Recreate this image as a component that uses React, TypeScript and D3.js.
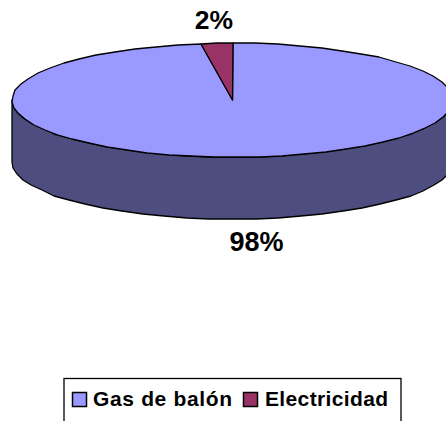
import React from 'react';
import * as d3 from 'd3';

const categories = ['Gas de balón', 'Electricidad'];
const values = [97.7, 2.3];
const topColors = ['#9999ff', '#993366'];
const sideColor = '#4d4d80';

const width = 446;
const height = 421;
const cx = 232.5;
const cy = 100;
const rx = 220.5;
const ry = 57;
const depth = 62;
const stepDeg = 6; // the source chart's rim is a coarse polygon, not a smooth curve

type Pt = [number, number];

const project = (a: number): Pt => [
  Math.round(cx + rx * Math.sin(a)),
  Math.round(cy - ry * Math.cos(a)),
];

// sample a rim between two angles, always keeping the end points
const rimPoints = (a0: number, a1: number): Pt[] => {
  const step = (stepDeg * Math.PI) / 180;
  const n = Math.max(1, Math.ceil((a1 - a0) / step));
  return d3.range(n + 1).map(i => project(a0 + ((a1 - a0) * i) / n));
};

// electricity slice ends at 12 o'clock, gas goes clockwise from there
const arcs = d3.pie<number>().sort(null)(values);
const line = d3.line<Pt>();

const slicePath = (d: d3.PieArcDatum<number>) =>
  line([[cx, cy], ...rimPoints(d.startAngle, d.endAngle)]) + 'Z';

// front wall of the cylinder
const topEdge = rimPoints(Math.PI / 2, (3 * Math.PI) / 2);
const bottomEdge = topEdge.map(([x, y]) => [x, y + depth] as Pt).reverse();
const sidePath = line([...topEdge, ...bottomEdge]) + 'Z';

const fmt = d3.format('.0f');

const legendX = [72.5, 243.5];
const legendLabelX = [93, 265];
const legendLabelLen = [139, 123];

export default function App() {
  return (
    <svg
      width={width}
      height={height}
      style={{ position: 'absolute', left: 0, top: 0, fontFamily: '"Liberation Sans", Arial, sans-serif' }}
    >
      <rect width={width} height={height} fill="#fff" />
      <path d={sidePath} fill={sideColor} stroke="#000" strokeWidth={1.3} strokeLinejoin="round" />
      {arcs.map((d, i) => (
        <path
          key={categories[i]}
          d={slicePath(d)}
          fill={topColors[i]}
          stroke="#000"
          strokeWidth={1.3}
          strokeLinejoin="round"
        />
      ))}
      <text x={214} y={29} textAnchor="middle" fontSize={26.5} fontWeight="bold">
        {fmt(values[1])}%
      </text>
      <text x={256.5} y={251} textAnchor="middle" fontSize={27} fontWeight="bold">
        {fmt(values[0])}%
      </text>

      {/* legend box runs off the bottom of the frame */}
      <rect x={64} y={378.5} width={337} height={60} fill="#fff" stroke="#000" strokeWidth={1.3} />
      {categories.map((c, i) => (
        <g key={c}>
          <rect x={legendX[i]} y={392.5} width={14} height={14} fill={topColors[i]} stroke="#000" strokeWidth={1.5} />
          <text
            x={legendLabelX[i]}
            y={406}
            fontSize={21}
            fontWeight="bold"
            textLength={legendLabelLen[i]}
            lengthAdjust="spacing"
          >
            {c}
          </text>
        </g>
      ))}
    </svg>
  );
}
